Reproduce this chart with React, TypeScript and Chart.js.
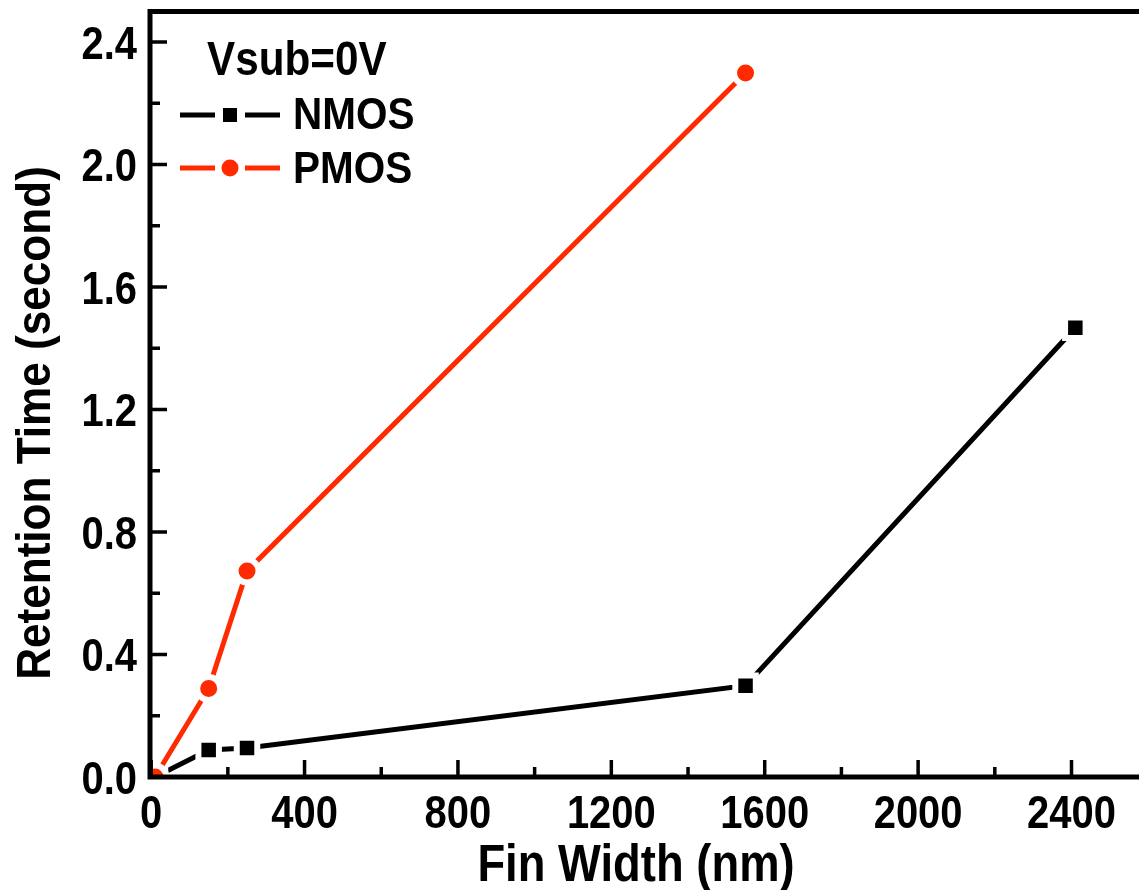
import React, { useEffect, useRef } from "react";
import { Chart, registerables } from "chart.js";

Chart.register(...registerables);

// ---- data ----
const nmosX = [10, 150, 250, 1550, 2410];
const nmosY = [0, 0.088, 0.095, 0.298, 1.467];
const pmosX = [10, 150, 250, 1550];
const pmosY = [0, 0.289, 0.673, 2.299];

const xMajorTicks = [0, 400, 800, 1200, 1600, 2000, 2400];
const xMinorTicks = [200, 600, 1000, 1400, 1800, 2200];
const xTickLabels = ["0", "400", "800", "1200", "1600", "2000", "2400"];
const yMajorTicks = [0, 0.4, 0.8, 1.2, 1.6, 2.0, 2.4];
const yMinorTicks = [0.2, 0.6, 1.0, 1.4, 1.8, 2.2];
const yTickLabels = ["0.0", "0.4", "0.8", "1.2", "1.6", "2.0", "2.4"];

const xTitle = "Fin Width (nm)";
const yTitle = "Retention Time (second)";
const legendTitle = "Vsub=0V";
const seriesNames = ["NMOS", "PMOS"];

const RED = "#ff2a00";
const FONT = '"Liberation Sans", Arial, sans-serif';

function drawText(
  ctx: CanvasRenderingContext2D,
  s: string,
  x: number,
  capCenterY: number,
  size: number,
  sx: number,
  align: CanvasTextAlign,
  rotate = 0
) {
  ctx.save();
  ctx.translate(x, capCenterY);
  if (rotate) ctx.rotate(rotate);
  ctx.scale(sx, 1);
  ctx.font = `bold ${size}px ${FONT}`;
  ctx.fillStyle = "#000";
  ctx.textAlign = align;
  ctx.textBaseline = "alphabetic";
  ctx.fillText(s, 0, size * 0.358);
  ctx.restore();
}

const framePlugin = {
  id: "originFrame",
  afterDraw(chart: any) {
    const ctx: CanvasRenderingContext2D = chart.ctx;
    const { left, right, top, bottom } = chart.chartArea;
    const xs = chart.scales.x;
    const ys = chart.scales.y;
    ctx.save();
    ctx.strokeStyle = "#000";
    ctx.lineCap = "butt";
    // frame
    ctx.lineWidth = 5;
    ctx.beginPath();
    ctx.moveTo(right + 5, top);
    ctx.lineTo(left, top);
    ctx.lineTo(left, bottom);
    ctx.lineTo(right + 5, bottom);
    ctx.stroke();
    // ticks
    ctx.lineWidth = 3.5;
    ctx.beginPath();
    for (const v of xMajorTicks) {
      const p = xs.getPixelForValue(v);
      ctx.moveTo(p, bottom);
      ctx.lineTo(p, bottom - 17);
    }
    for (const v of xMinorTicks) {
      const p = xs.getPixelForValue(v);
      ctx.moveTo(p, bottom);
      ctx.lineTo(p, bottom - 10);
    }
    for (const v of yMajorTicks) {
      const p = ys.getPixelForValue(v);
      ctx.moveTo(left, p);
      ctx.lineTo(left + 17, p);
    }
    for (const v of yMinorTicks) {
      const p = ys.getPixelForValue(v);
      ctx.moveTo(left, p);
      ctx.lineTo(left + 10, p);
    }
    ctx.stroke();
    ctx.restore();

    // tick labels
    xMajorTicks.forEach((v, i) => {
      drawText(ctx, xTickLabels[i], xs.getPixelForValue(v), 811, 47, 0.85, "center");
    });
    yMajorTicks.forEach((v, i) => {
      drawText(ctx, yTickLabels[i], 137, ys.getPixelForValue(v), 47, 0.85, "right");
    });

    // titles
    drawText(ctx, xTitle, 636, 863, 51, 0.89, "center");
    drawText(ctx, yTitle, 32, 423, 49, 0.9, "center", -Math.PI / 2);

    // legend
    drawText(ctx, legendTitle, 207, 57.5, 48, 0.88, "left");
    ctx.save();
    ctx.lineWidth = 5;
    ctx.lineCap = "butt";
    // NMOS
    ctx.strokeStyle = "#000";
    ctx.fillStyle = "#000";
    ctx.beginPath();
    ctx.moveTo(180, 115);
    ctx.lineTo(215, 115);
    ctx.moveTo(245, 115);
    ctx.lineTo(280, 115);
    ctx.stroke();
    ctx.fillRect(223, 108, 14, 14);
    // PMOS
    ctx.strokeStyle = RED;
    ctx.fillStyle = RED;
    ctx.beginPath();
    ctx.moveTo(180, 168);
    ctx.lineTo(215, 168);
    ctx.moveTo(245, 168);
    ctx.lineTo(280, 168);
    ctx.stroke();
    ctx.beginPath();
    ctx.arc(230, 168, 8.5, 0, Math.PI * 2);
    ctx.fill();
    ctx.restore();
    drawText(ctx, seriesNames[0], 293, 113, 44, 0.92, "left");
    drawText(ctx, seriesNames[1], 293, 167, 44, 0.92, "left");
  },
};

export default function App() {
  const ref = useRef<HTMLCanvasElement | null>(null);

  useEffect(() => {
    if (!ref.current) return;
    const chart = new Chart(ref.current, {
      type: "line",
      data: {
        datasets: [
          {
            label: seriesNames[0],
            data: nmosX.map((x, i) => ({ x, y: nmosY[i] })),
            borderColor: "#000",
            backgroundColor: "#000",
            borderWidth: 5,
            pointStyle: "rect",
            pointRadius: 14.5,
            pointBackgroundColor: "#000",
            pointBorderColor: "#fff",
            pointBorderWidth: 6,
            order: 1,
            clip: 0,
          },
          {
            label: seriesNames[1],
            data: pmosX.map((x, i) => ({ x, y: pmosY[i] })),
            borderColor: RED,
            backgroundColor: RED,
            borderWidth: 5,
            pointStyle: "circle",
            pointRadius: 11.5,
            pointBackgroundColor: RED,
            pointBorderColor: "#fff",
            pointBorderWidth: 6,
            order: 0,
            clip: 0,
          },
        ],
      },
      options: {
        animation: false,
        responsive: false,
        events: [],
        layout: { autoPadding: false, padding: { left: 150, top: 11.5, right: 0, bottom: 113 } },
        plugins: { legend: { display: false }, tooltip: { enabled: false } },
        scales: {
          x: { type: "linear", min: -3, max: 2576, display: false },
          y: { type: "linear", min: 0, max: 2.5, display: false },
        },
      },
      plugins: [framePlugin],
    });
    return () => chart.destroy();
  }, []);

  return (
    <div style={{ position: "fixed", left: 0, top: 0, width: 1139, height: 890, background: "#fff" }}>
      <canvas ref={ref} width={1139} height={890} style={{ width: 1139, height: 890, display: "block" }} />
    </div>
  );
}
